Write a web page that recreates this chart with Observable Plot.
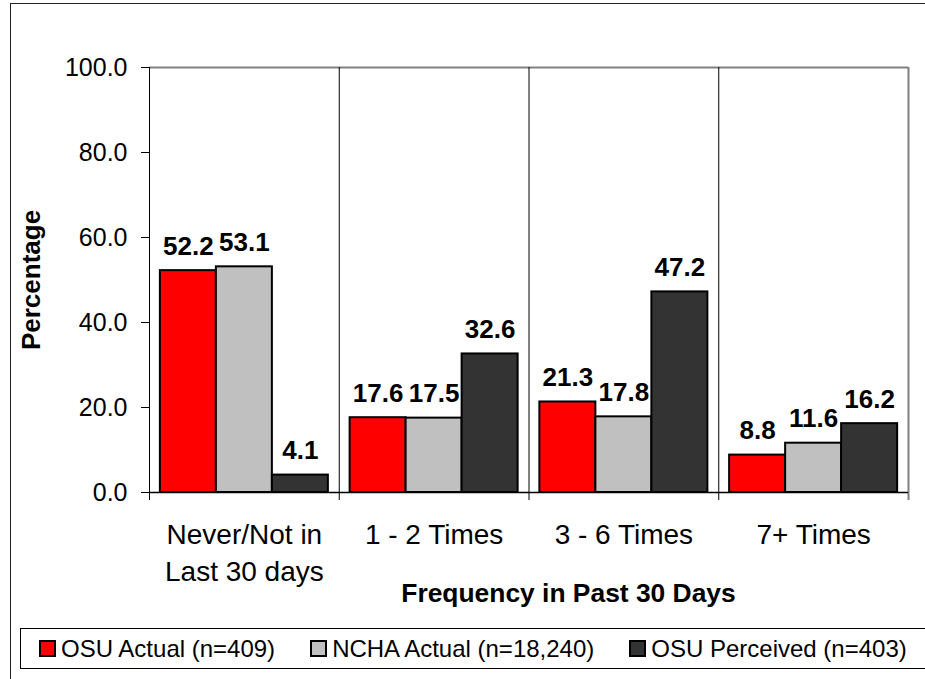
<!DOCTYPE html>
<html><head><meta charset="utf-8">
<script src="https://cdn.jsdelivr.net/npm/d3@7"></script>
<script src="https://cdn.jsdelivr.net/npm/@observablehq/plot@0.6"></script>
<style>
html,body{margin:0;padding:0;background:#fff;}
#wrap{position:relative;width:925px;height:679px;overflow:hidden;font-family:"Liberation Sans",Arial,sans-serif;}
#frame{position:absolute;left:10px;top:3px;width:960px;height:720px;border:1.5px solid #222;box-sizing:border-box;}
#chart{position:absolute;left:0;top:0;}
#legend{position:absolute;left:20px;top:628px;width:960px;height:41px;border:1px solid #000;box-sizing:border-box;display:flex;align-items:center;padding-left:18px;font-size:24px;color:#000;background:#fff;}
.item{display:flex;align-items:center;margin-right:35px;white-space:nowrap;}
.sw{width:17px;height:17px;border:2px solid #000;box-sizing:border-box;margin-right:5px;}
</style></head>
<body>
<div id="wrap"><div id="frame"></div><div id="chart"></div><div id="legend"></div></div>
<script>
const categories = ["Never/Not in\nLast 30 days", "1 - 2 Times", "3 - 6 Times", "7+ Times"];
const series = ["OSU Actual (n=409)", "NCHA Actual (n=18,240)", "OSU Perceived (n=403)"];
const osuActual = [52.2, 17.6, 21.3, 8.8];
const nchaActual = [53.1, 17.5, 17.8, 11.6];
const osuPerceived = [4.1, 32.6, 47.2, 16.2];
const yTicks = [0, 20, 40, 60, 80, 100];
const colors = ["#ff0000", "#c0c0c0", "#333333"];
const xTitle = "Frequency in Past 30 Days";
const yTitle = "Percentage";

const values = [osuActual, nchaActual, osuPerceived];
const W = 925, H = 679, mL = 149, mR = 17, mT = 67, mB = 187;
const band = (W - mL - mR) / categories.length;
const barW = 56;
const inset = (band - barW) / 2;
const rows = series.flatMap((s, si) => categories.map((c, ci) => ({category: c, series: s, si, value: values[si][ci]})));

const marks = [];
marks.push(Plot.ruleY([100], {stroke: "#808080", strokeWidth: 2}));
marks.push(Plot.ruleX(categories, {x: d => d, dx: -band / 2, stroke: "#000", strokeWidth: 1, insetBottom: -8}));
marks.push(Plot.ruleX([categories[categories.length - 1]], {x: d => d, dx: band / 2, stroke: "#808080", strokeWidth: 2, insetBottom: -8}));
series.forEach((s, si) => {
  const d = rows.filter(r => r.si === si);
  const dx = (si - 1) * barW;
  marks.push(Plot.barY(d, {x: "category", y: "value", fill: colors[si], stroke: "#000", strokeWidth: 2, insetLeft: inset, insetRight: inset, dx}));
  marks.push(Plot.text(d, {x: "category", y: "value", text: r => r.value.toFixed(1), dx, dy: -16, lineAnchor: "bottom", fontSize: 26, fontWeight: "bold", fill: "#000"}));
});
marks.push(Plot.ruleY([0], {stroke: "#000", strokeWidth: 1.5}));
marks.push(Plot.axisY({ticks: yTicks, tickFormat: d => d.toFixed(1), tickSize: 8, tickPadding: 14, fontSize: 25, label: null}));
marks.push(Plot.axisX({tickSize: 0, tickPadding: 25, fontSize: 28, lineHeight: 37 / 28, label: null}));
marks.push(Plot.text([yTitle], {text: d => d, frameAnchor: "left", textAnchor: "middle", rotate: -90, dx: -118, fontSize: 26, fontWeight: "bold", fill: "#000"}));
marks.push(Plot.text([xTitle], {text: d => d, frameAnchor: "bottom", textAnchor: "middle", dx: 39.5, dy: 109.5, lineAnchor: "bottom", fontSize: 26.4, fontWeight: "bold", fill: "#000"}));

const chart = Plot.plot({
  width: W, height: H,
  marginLeft: mL, marginRight: mR, marginTop: mT, marginBottom: mB,
  x: {type: "band", domain: categories, paddingInner: 0, paddingOuter: 0, round: false},
  y: {domain: [0, 100]},
  style: {fontFamily: "'Liberation Sans', Arial, sans-serif", background: "transparent", overflow: "visible", color: "#000"},
  marks
});
document.getElementById("chart").appendChild(chart);

const legend = document.getElementById("legend");
series.forEach((s, si) => {
  const item = document.createElement("div");
  item.className = "item";
  const sw = document.createElement("div");
  sw.className = "sw";
  sw.style.background = colors[si];
  const t = document.createElement("span");
  t.textContent = s;
  item.appendChild(sw); item.appendChild(t);
  legend.appendChild(item);
});
</script>
</body></html>
